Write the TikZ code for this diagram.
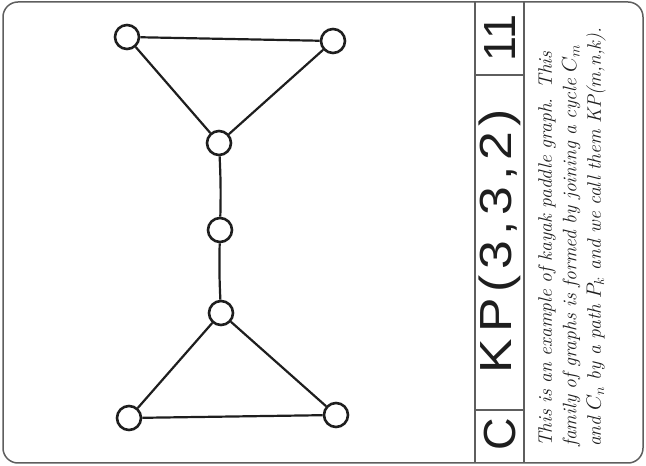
\documentclass[tikz,border=0pt]{standalone}
\usepackage{amsmath,amssymb}
\usepackage{fontspec}
\usepackage{tikz}
\usetikzlibrary{positioning}
\usepackage{xcolor}
\definecolor{CardGray}{HTML}{5E5E5E}
\definecolor{Ink}{HTML}{1E1E1E}
\newfontfamily\cardsans{Liberation Sans}
\newfontfamily\cardtitle[LetterSpace=11]{Liberation Sans}

\begin{document}
\begin{tikzpicture}[
    x=1pt, y=1pt,
    vertex/.style={circle, draw=Ink, line width=2.6pt, fill=white, minimum size=24pt, inner sep=0pt},
    edge/.style={draw=Ink, line width=2.2pt},
    frame/.style={draw=CardGray, line width=1.5pt},
    strip/.style={rotate=90, inner sep=0pt, text=Ink}
]
\useasboundingbox (0,0) rectangle (646,466);

% === CARD FRAME ===
\draw[frame, rounded corners=15pt] (3,3) rectangle (643,464);
\draw[frame] (475,3) -- (475,464);
\draw[frame] (524,3) -- (524,464);
\draw[frame] (475,391) -- (524,391);
\draw[frame] (475,56) -- (524,56);

% === STRIP TEXTS ===
\node[strip, font=\cardsans\fontsize{45}{45}\selectfont] (number) at (500,428) {11};
\node[strip, font=\cardtitle\fontsize{45}{45}\selectfont] (title) at (500,225) {\scalebox{1.15}[1]{KP(3,3,2)}};
\node[strip, font=\cardsans\fontsize{45}{45}\selectfont] (suit) at (500,32) {C};
\node[strip, anchor=west, text width=450pt, align=left,
      font=\fontsize{19.5}{24.5}\selectfont\itshape] (about) at (572,19)
    {This is an example of kayak paddle graph. This\\
     family of graphs is formed by joining a cycle $C_m$\\
     and $C_n$ by a path $P_k$ and we call them KP(m,n,k).};

% === KAYAK PADDLE GRAPH ===
\node[vertex] (tl) at (127,429) {};
\node[vertex] (tr) at (333,425) {};
\node[vertex] (tm) at (219,323) {};
\node[vertex] (mid) at (220,236) {};
\node[vertex] (lm) at (221,153) {};
\node[vertex] (bl) at (129,48) {};
\node[vertex] (br) at (336,51) {};

% top cycle
\draw[edge] (tl) -- (tr);
\draw[edge] (tr) -- (tm);
\draw[edge] (tm) -- (tl);
% path between the cycles
\draw[edge] (tm) to[bend left=2] (mid);
\draw[edge] (mid) to[bend right=2] (lm);
% bottom cycle
\draw[edge] (lm) -- (br);
\draw[edge] (br) -- (bl);
\draw[edge] (bl) -- (lm);

\end{tikzpicture}
\end{document}
